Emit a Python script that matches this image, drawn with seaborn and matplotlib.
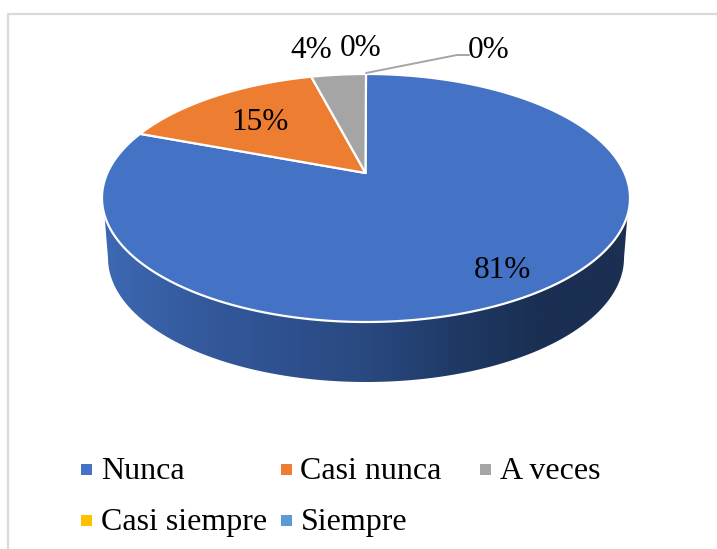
import numpy as np
import seaborn as sns
import matplotlib.pyplot as plt
from matplotlib.patches import Polygon, Rectangle

categories = ['Nunca', 'Casi nunca', 'A veces', 'Casi siempre', 'Siempre']
values = [81, 15, 4, 0, 0]
pct_labels = ['81%', '15%', '4%', '0%', '0%']
colors = ['#4472C4', '#ED7D31', '#A5A5A5', '#FFC000', '#5B9BD5']

sns.set_theme(style='white')
plt.rcParams['font.family'] = ['Liberation Serif', 'DejaVu Serif']

W, H = 717, 549
fig = plt.figure(figsize=(W / 100, H / 100), dpi=100)

# full figure overlay in picture pixels, y down
bg = fig.add_axes([0, 0, 1, 1])
bg.set_xlim(0, W)
bg.set_ylim(H, 0)
bg.axis('off')

# chart frame, only left and top are inside the crop
bg.plot([8, 8, W], [H, 14, 14], color='#D9D9D9', lw=1.6)

# rim of the top face in pixels, and the pie centre as seen in perspective
cx, cy, rx, ry = 366, 198, 264, 124
apex = (365.5, 173)
# lower rim of the side wall
cy2, rx2, ry2 = 258, 258, 124
squeeze = 0.83  # far side of the pie looks compressed


def rim_point(angle):
    # angle in degrees, clockwise from 12 o'clock
    half = np.tan(np.radians(angle) / 2)
    phi = 2 * np.arctan(squeeze * half)
    return cx + rx * np.sin(phi), cy - ry * np.cos(phi)


# side wall with horizontal shading
t0 = np.arcsin(17 / ry)
t_top = np.linspace(t0, np.pi - t0, 200)
t_low = np.linspace(np.pi, 0, 200)
wall = np.column_stack([np.r_[cx + rx * np.cos(t_top), cx + rx2 * np.cos(t_low)],
                        np.r_[cy + ry * np.sin(t_top), cy2 + ry2 * np.sin(t_low)]])
clip = Polygon(wall, closed=True, fc='none', ec='none', transform=bg.transData)
bg.add_patch(clip)
shade = sns.blend_palette(['#3D69B3', '#345B9E', '#2F5190', '#2A4980',
                           '#1F3A66', '#1A2F52', '#1A2F52'], as_cmap=True)
img = bg.imshow(np.linspace(0, 1, 256)[None, :], cmap=shade, aspect='auto',
                extent=(cx - rx, cx + rx, cy2 + ry2, cy), zorder=1)
img.set_clip_path(clip)
bg.set_xlim(0, W)
bg.set_ylim(H, 0)

# pie gives the slice angles, then each slice is redrawn on the tilted face
ax = fig.add_axes([0, 0, 0.01, 0.01])
wedges, _ = ax.pie(values, startangle=90, counterclock=False)
ax.set_visible(False)

top = fig.add_axes([0, 0, 1, 1])
top.set_xlim(0, W)
top.set_ylim(H, 0)
top.axis('off')

for wedge, col in zip(wedges, colors):
    start = 90 - wedge.theta2
    stop = 90 - wedge.theta1
    if stop - start < 1e-6:
        continue
    rim = [rim_point(a) for a in np.linspace(start, stop, 300)]
    top.add_patch(Polygon([apex] + rim, closed=True, fc=col, ec='white',
                          lw=1.6, joinstyle='round'))

# data labels
fs = 22.5
label_pos = [(502, 268), (260, 120), (311, 47), (361, 46), (489, 48)]
for (x, y), lab in zip(label_pos, pct_labels):
    top.text(x, y + 3, lab, fontsize=fs, ha='center', va='center', color='black')
top.plot([366, 457, 469], [73, 55, 55], color='#A5A5A5', lw=1.4)

# legend, two rows as in the picture
legend_pos = [(86.7, 469), (286, 469), (485.5, 469), (86.7, 520), (286, 520)]
for (x, y), name, col in zip(legend_pos, categories, colors):
    top.add_patch(Rectangle((x - 5.5, y - 5.5), 11, 11, fc=col, ec='none'))
    top.text(x + 14.5, y + 2.5, name, fontsize=23, ha='left', va='center', color='black')

fig.savefig('out.png', dpi=100)
